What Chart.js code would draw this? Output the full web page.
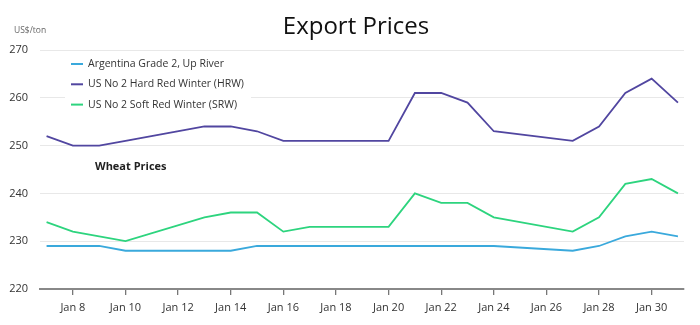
<!DOCTYPE html>
<html>
<head>
<meta charset="utf-8">
<script src="https://cdn.jsdelivr.net/npm/chart.js@4/dist/chart.umd.min.js"></script>
<style>
html,body{margin:0;padding:0;background:#fff;}
#wrap{position:relative;width:700px;height:325px;}
</style>
</head>
<body>
<div id="wrap"><canvas id="c" width="700" height="325"></canvas></div>
<script>
// ---- data ----
const days = [7, 8, 9, 10, 13, 14, 15, 16, 17, 20, 21, 22, 23, 24, 27, 28, 29, 30, 31];
const argentina = [229, 229, 229, 228, 228, 228, 229, 229, 229, 229, 229, 229, 229, 229, 228, 229, 231, 232, 231];
const hrw       = [252, 250, 250, 251, 254, 254, 253, 251, 251, 251, 261, 261, 259, 253, 251, 254, 261, 264, 259];
const srw       = [234, 232, 231, 230, 235, 236, 236, 232, 233, 233, 240, 238, 238, 235, 232, 235, 242, 243, 240];
const xTickDays = [8, 10, 12, 14, 16, 18, 20, 22, 24, 26, 28, 30];
const yTicks = [220, 230, 240, 250, 260, 270];
const seriesNames = ['Argentina Grade 2, Up River', 'US No 2 Hard Red Winter (HRW)', 'US No 2 Soft Red Winter (SRW)'];
const titleText = 'Export Prices';
const subText = 'Wheat Prices';
const unitText = 'US$/ton';

const FONT = "'Open Sans', 'Noto Sans', sans-serif";
const colors = ['#3aa9dc', '#5146a0', '#2dd47e'];
const toPts = arr => days.map((d, i) => ({x: d, y: arr[i]}));

const textPlugin = {
  id: 'texts',
  beforeDatasetsDraw(chart) {
    const ctx = chart.ctx;
    const ca = chart.chartArea;
    ctx.save();
    // legend background
    ctx.fillStyle = '#fff';
    ctx.fillRect(ca.left + 25, ca.top + 4, 186, 64);
    ctx.restore();
  },
  afterDraw(chart) {
    const ctx = chart.ctx;
    const ca = chart.chartArea;
    ctx.save();
    ctx.textBaseline = 'middle';
    // title
    ctx.fillStyle = '#111';
    ctx.font = "24px " + FONT;
    ctx.textAlign = 'center';
    ctx.fillText(titleText, 356, 27);
    // unit
    ctx.font = "8.5px " + FONT;
    ctx.fillStyle = '#666';
    ctx.textAlign = 'left';
    ctx.fillText(unitText, 14, 31);
    // legend
    ctx.font = "10.5px " + FONT;
    chart.data.datasets.forEach((ds, i) => {
      const y = ca.top + 14 + i * 20.3;
      ctx.strokeStyle = ds.borderColor;
      ctx.lineWidth = 2;
      ctx.beginPath();
      ctx.moveTo(ca.left + 31, y);
      ctx.lineTo(ca.left + 43, y);
      ctx.stroke();
      ctx.fillStyle = '#333';
      ctx.fillText(ds.label, ca.left + 48, y);
    });
    // sub title
    ctx.font = "bold 11px " + FONT;
    ctx.fillStyle = '#222';
    ctx.fillText(subText, 95, 167);
    ctx.restore();
  }
};

new Chart(document.getElementById('c'), {
  type: 'line',
  data: {
    datasets: [
      {label: seriesNames[0], data: toPts(argentina), borderColor: colors[0], backgroundColor: colors[0]},
      {label: seriesNames[1], data: toPts(hrw), borderColor: colors[1], backgroundColor: colors[1]},
      {label: seriesNames[2], data: toPts(srw), borderColor: colors[2], backgroundColor: colors[2]}
    ]
  },
  options: {
    responsive: false,
    animation: false,
    devicePixelRatio: 1,
    layout: {padding: {left: 0, right: 16, top: 50, bottom: 0}},
    elements: {
      line: {borderWidth: 1.8, tension: 0},
      point: {radius: 0}
    },
    plugins: {
      legend: {display: false},
      title: {display: false},
      tooltip: {enabled: false}
    },
    scales: {
      x: {
        type: 'linear',
        min: 6.75,
        max: 31.23,
        afterBuildTicks: s => { s.ticks = xTickDays.map(v => ({value: v})); },
        afterFit: s => { s.height = 36; },
        grid: {drawOnChartArea: false, drawTicks: true, tickLength: 6, color: '#777', lineWidth: 1.3},
        border: {display: true, color: '#888', width: 2},
        ticks: {
          callback: v => 'Jan ' + v,
          color: '#333',
          font: {family: FONT, size: 11},
          padding: 6,
          maxRotation: 0,
          autoSkip: false
        }
      },
      y: {
        min: 220,
        max: 270,
        afterBuildTicks: s => { s.ticks = yTicks.map(v => ({value: v})); },
        afterFit: s => { s.width = 40; },
        grid: {color: '#e8e8e8', drawTicks: false, lineWidth: 1},
        border: {display: false},
        ticks: {
          color: '#333',
          font: {family: FONT, size: 11},
          padding: 12
        }
      }
    }
  },
  plugins: [textPlugin]
});
</script>
</body>
</html>
